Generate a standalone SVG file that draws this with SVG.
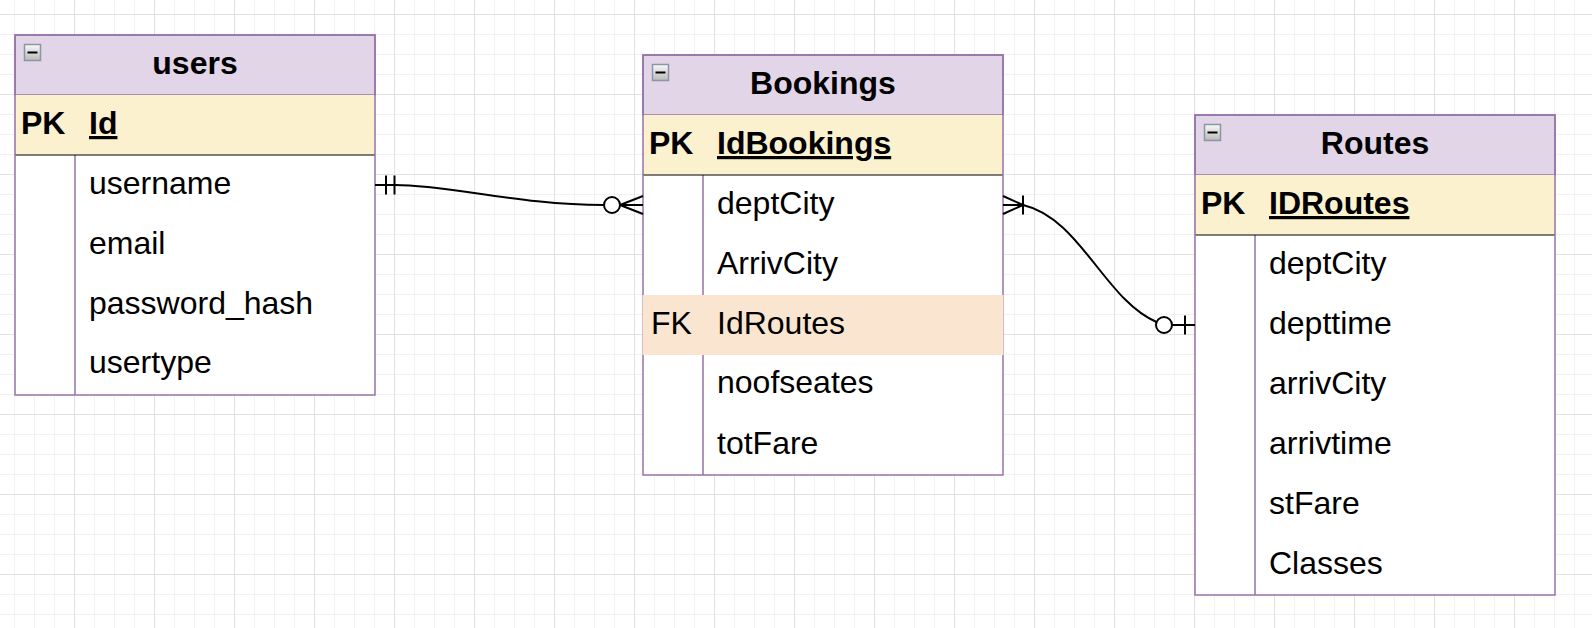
<svg xmlns="http://www.w3.org/2000/svg" xmlns:xlink="http://www.w3.org/1999/xlink" width="1592" height="628" viewBox="0 0 1592 628">
<style>
  text { font-family: "Liberation Sans", Arial, Helvetica, sans-serif; font-size: 32px; fill: #000; }
  .title { font-weight: bold; text-anchor: middle; }
  .key { font-weight: bold; }
  .pkname { font-weight: bold; text-decoration: underline; }
  .body { fill: #ffffff; stroke: none; }
  .hdr { fill: #e1d5e7; stroke: #9673a6; stroke-width: 1.5; }
  .pk { fill: #fcf1cf; stroke: none; }
  .fk { fill: #fae6d0; stroke: none; }
  .border { fill: none; stroke: #9673a6; stroke-width: 1.5; }
  .div { stroke: #9673a6; stroke-width: 1.5; }
  .sep { stroke: #000; stroke-width: 1.2; }
  .edge { fill: none; stroke: #000; stroke-width: 2; }
  .mk { fill: #fff; stroke: #000; stroke-width: 2; }
</style>
<defs>
  <pattern id="grid" x="-6" y="14" width="80" height="80" patternUnits="userSpaceOnUse">
    <path d="M20.5,0 V80 M40.5,0 V80 M60.5,0 V80 M0,20.5 H80 M0,40.5 H80 M0,60.5 H80" stroke="#f1f1f1" stroke-width="1" fill="none"/>
    <path d="M0.5,0 V80 M0,0.5 H80" stroke="#e2e2e2" stroke-width="1" fill="none"/>
  </pattern>
  <linearGradient id="icg" x1="0" y1="0" x2="0" y2="1">
    <stop offset="0" stop-color="#fafafa"/>
    <stop offset="1" stop-color="#b9b9b9"/>
  </linearGradient>
  <g id="collapse">
    <rect x="0.5" y="0.5" width="16" height="16" fill="url(#icg)" stroke="#8b97a3" stroke-width="1.5"/>
    <path d="M3.5,8.5 H13.5" stroke="#000" stroke-width="2"/>
  </g>
</defs>
<rect width="1592" height="628" fill="#ffffff"/>
<rect width="1592" height="628" fill="url(#grid)"/>

<g id="users">
  <rect class="body" x="15" y="35" width="360" height="360"/>
  <rect class="hdr" x="15" y="35" width="360" height="60"/>
  <rect class="pk" x="15" y="95" width="360" height="60"/>
  <line class="div" x1="75" y1="155" x2="75" y2="395"/>
  <line class="sep" x1="15" y1="155" x2="375" y2="155"/>
  <rect class="border" x="15" y="35" width="360" height="360"/>
  <use xlink:href="#collapse" x="24" y="44"/>
  <text class="title" x="195" y="74">users</text>
  <text class="key" x="21" y="134">PK</text>
  <text class="pkname" x="89" y="134">Id</text>
  <text x="89" y="194">username</text>
  <text x="89" y="253.5">email</text>
  <text x="89" y="314">password_hash</text>
  <text x="89" y="373">usertype</text>
</g>

<g id="bookings">
  <rect class="body" x="643" y="55" width="360" height="420"/>
  <rect class="hdr" x="643" y="55" width="360" height="60"/>
  <rect class="pk" x="643" y="115" width="360" height="60"/>
  <line class="div" x1="703" y1="175" x2="703" y2="475"/>
  <line class="sep" x1="643" y1="175" x2="1003" y2="175"/>
  <rect class="border" x="643" y="55" width="360" height="420"/>
  <rect class="fk" x="642.5" y="295" width="361" height="60"/>
  <use xlink:href="#collapse" x="652" y="64"/>
  <text class="title" x="823" y="94">Bookings</text>
  <text class="key" x="649" y="154">PK</text>
  <text class="pkname" x="717" y="154">IdBookings</text>
  <text x="717" y="214">deptCity</text>
  <text x="717" y="273.5">ArrivCity</text>
  <text x="651" y="333.5">FK</text>
  <text x="717" y="333.5">IdRoutes</text>
  <text x="717" y="392.5">noofseates</text>
  <text x="717" y="453.5">totFare</text>
</g>

<g id="routes">
  <rect class="body" x="1195" y="115" width="360" height="480"/>
  <rect class="hdr" x="1195" y="115" width="360" height="60"/>
  <rect class="pk" x="1195" y="175" width="360" height="60"/>
  <line class="div" x1="1255" y1="235" x2="1255" y2="595"/>
  <line class="sep" x1="1195" y1="235" x2="1555" y2="235"/>
  <rect class="border" x="1195" y="115" width="360" height="480"/>
  <use xlink:href="#collapse" x="1204" y="124"/>
  <text class="title" x="1375" y="154">Routes</text>
  <text class="key" x="1201" y="214">PK</text>
  <text class="pkname" x="1269" y="214">IDRoutes</text>
  <text x="1269" y="274">deptCity</text>
  <text x="1269" y="334">depttime</text>
  <text x="1269" y="393.5">arrivCity</text>
  <text x="1269" y="453.5">arrivtime</text>
  <text x="1269" y="513.5">stFare</text>
  <text x="1269" y="573.5">Classes</text>
</g>

<g id="connectors">
  <g id="users-bookings">
    <path class="edge" d="M375,185 L395,185 C450,185 520,205 604,205"/>
    <path class="edge" d="M386,175.5 V194.5 M394.5,175.5 V194.5"/>
    <circle class="mk" cx="612" cy="205" r="8"/>
    <path class="edge" d="M620,205 H643 M620,205 L643,196 M620,205 L643,214"/>
  </g>
  <g id="bookings-routes">
    <path class="edge" d="M1003,196 L1023,205 L1003,214 M1003,205 H1023 M1023,195.5 V214.5"/>
    <path class="edge" d="M1023,205 C1080,218 1105,300 1156.5,322"/>
    <circle class="mk" cx="1164" cy="325" r="8"/>
    <path class="edge" d="M1172,325 H1195 M1185,315.5 V334.5"/>
  </g>
</g>
</svg>
